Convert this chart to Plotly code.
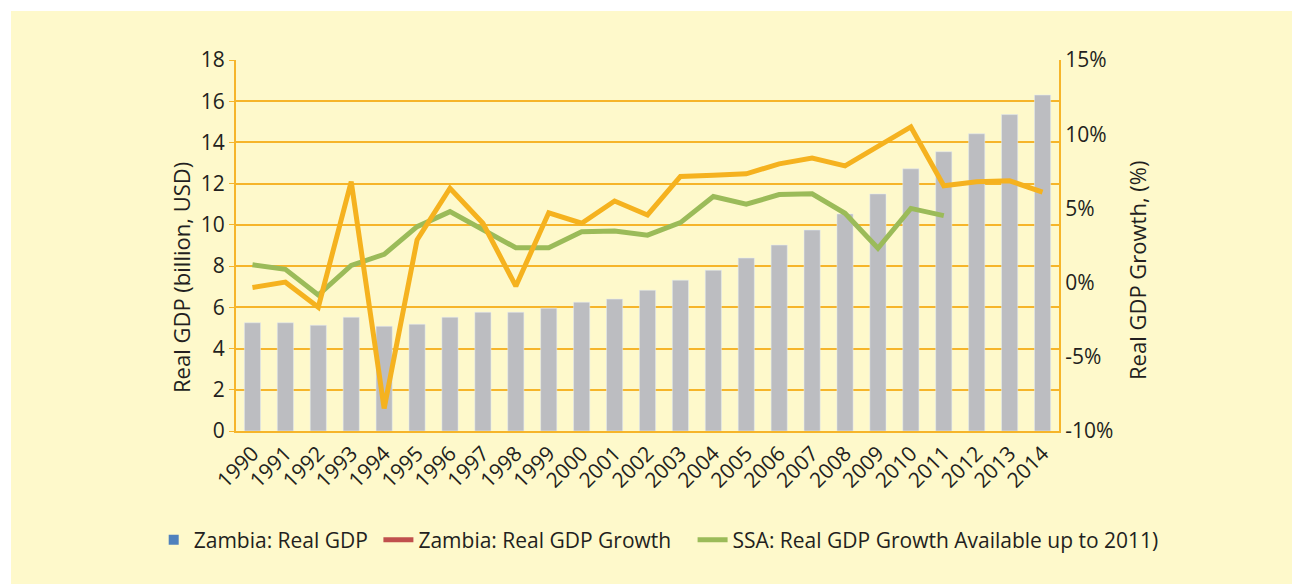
import plotly.graph_objects as go

years = [str(y) for y in range(1990, 2015)]
zambia_gdp = [5.25, 5.25, 5.13, 5.52, 5.08, 5.18, 5.52, 5.76, 5.76, 5.96,
              6.25, 6.4, 6.83, 7.32, 7.8, 8.39, 9.02, 9.75, 10.53, 11.5,
              12.72, 13.55, 14.42, 15.35, 16.3]
zambia_growth = [-0.33, 0.03, -1.66, 6.81, -8.48, 2.87, 6.36, 4.0, -0.24, 4.7,
                 4.0, 5.5, 4.56, 7.15, 7.24, 7.33, 8.0, 8.39, 7.87, 9.18,
                 10.49, 6.52, 6.79, 6.86, 6.1]
ssa_years = [str(y) for y in range(1990, 2012)]
ssa_growth = [1.2, 0.89, -0.84, 1.16, 1.9, 3.77, 4.78, 3.55, 2.35, 2.35,
              3.43, 3.48, 3.2, 4.04, 5.8, 5.28, 5.93, 5.98, 4.67, 2.31,
              5.0, 4.51]
left_ticks = [0, 2, 4, 6, 8, 10, 12, 14, 16, 18]
right_tickvals = [-10, -5, 0, 5, 10, 15]
right_ticktext = ["-10%", "-5%", "0%", "5%", "10%", "15%"]
legend_names = ["Zambia: Real GDP", "Zambia: Real GDP Growth",
                "SSA: Real GDP Growth Available up to 2011)"]
left_title = "Real GDP (billion, USD)"
right_title = "Real GDP Growth, (%)"

ORANGE = "#F5B21F"
GRID = "#F6B52A"
GREEN = "#9BBB59"
BAR = "#BCBDC1"
TXT = "#231F20"
FONT = "Open Sans"
NB = "\u00a0"

fig = go.Figure()
fig.add_trace(go.Bar(x=years, y=zambia_gdp, marker_color=BAR, showlegend=False,
                     yaxis="y"))
fig.add_trace(go.Scatter(x=ssa_years, y=ssa_growth, mode="lines",
                         line=dict(color=GREEN, width=5), showlegend=False, yaxis="y2"))
fig.add_trace(go.Scatter(x=years, y=zambia_growth, mode="lines",
                         line=dict(color=ORANGE, width=5), showlegend=False, yaxis="y2"))
# legend entries (colours as in the original legend)
fig.add_trace(go.Scatter(x=[None], y=[None], mode="markers", name=legend_names[0] + NB,
                         marker=dict(symbol="square", size=10, color="#4F81BD")))
fig.add_trace(go.Scatter(x=[None], y=[None], mode="lines", name=legend_names[1] + NB * 3,
                         line=dict(color="#C0504D", width=5)))
fig.add_trace(go.Scatter(x=[None], y=[None], mode="lines", name=legend_names[2],
                         line=dict(color=GREEN, width=5)))

L, R, T, B = 236, 233, 60, 153
W, H = 1292, 584
pw, ph = W - L - R, H - T - B

fig.add_shape(type="rect", xref="paper", yref="paper", layer="below",
              x0=(11 - L) / pw, x1=(W + 5 - L) / pw,
              y0=(H - B - (H + 5)) / ph, y1=(H - B - 11) / ph,
              fillcolor="#FEF9CB", line=dict(width=0))

fig.add_annotation(text=left_title, textangle=-90, xref="paper", yref="paper",
                   x=(181 - L) / pw, y=(H - B - 278) / ph, showarrow=False,
                   xanchor="center", yanchor="middle", font=dict(size=22))
fig.add_annotation(text=right_title, textangle=-90, xref="paper", yref="paper",
                   x=(1137 - L) / pw, y=(H - B - 270) / ph, showarrow=False,
                   xanchor="center", yanchor="middle", font=dict(size=22))

fig.update_layout(
    width=W, height=H,
    margin=dict(l=L, r=R, t=T, b=B, pad=0),
    paper_bgcolor="white", plot_bgcolor="rgba(0,0,0,0)",
    font=dict(family=FONT, size=18, color=TXT),
    bargap=0.51,
    xaxis=dict(type="category", showline=True, linecolor=GRID, linewidth=2,
               showgrid=False, ticks="", tickangle=-45, tickfont=dict(size=21)),
    yaxis=dict(range=[0, 18], tickvals=left_ticks, showline=True, linecolor=GRID,
               linewidth=2, showgrid=True, gridcolor=GRID, gridwidth=1.5,
               ticks="outside", ticklen=5, tickcolor=GRID, zeroline=False,
               tickfont=dict(size=21)),
    yaxis2=dict(range=[-10, 15], tickvals=right_tickvals, ticktext=right_ticktext,
                overlaying="y", side="right", showline=True, linecolor=GRID,
                linewidth=2, showgrid=False, zeroline=False, ticks="",
                tickfont=dict(size=21)),
    legend=dict(orientation="h", x=-0.1, xanchor="left", y=-0.294, yanchor="middle",
                bgcolor="rgba(0,0,0,0)", font=dict(size=21), itemwidth=30),
)

fig.write_html("out.html", config={"displayModeBar": False},
               post_script="document.body.style.margin='0';")
